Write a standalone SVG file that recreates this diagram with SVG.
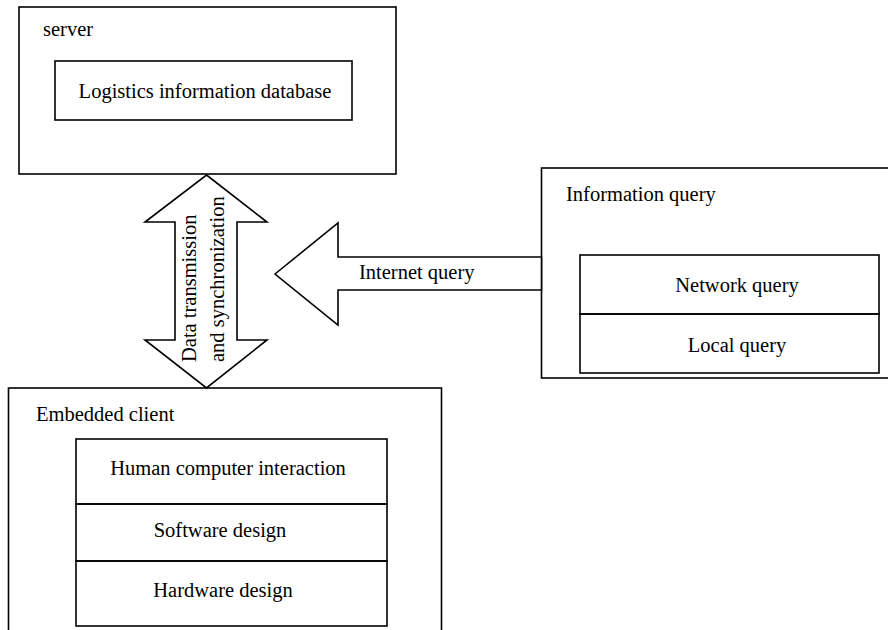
<svg xmlns="http://www.w3.org/2000/svg" width="888" height="630" viewBox="0 0 888 630">
<style>
.box{fill:none;stroke:#000;stroke-width:1.6}
.arrow{fill:#fff;stroke:#000;stroke-width:1.6;stroke-linejoin:miter}
text{font-family:"Liberation Serif","Times New Roman",serif;font-size:20.5px;fill:#000}
.c{text-anchor:middle}
</style>
<rect width="888" height="630" fill="#fff"/>
<g id="server">
<rect class="box" x="19" y="7" width="377" height="167"/>
<text x="43" y="36">server</text>
<g id="logistics-db">
<rect class="box" x="55" y="61" width="297" height="59"/>
<text class="c" x="205" y="98">Logistics information database</text>
</g>
</g>
<g id="info-query">
<rect class="box" x="541.5" y="168" width="350" height="210"/>
<text x="566" y="201">Information query</text>
<g id="network-query">
<rect class="box" x="580" y="255" width="299" height="59"/>
<text class="c" x="737" y="292">Network query</text>
</g>
<g id="local-query">
<rect class="box" x="580" y="314" width="299" height="59"/>
<text class="c" x="737" y="352">Local query</text>
</g>
</g>
<g id="embedded-client">
<rect class="box" x="8.5" y="388" width="433" height="250"/>
<text x="36" y="421">Embedded client</text>
<g id="hci">
<rect class="box" x="76" y="439" width="311" height="65"/>
<text class="c" x="228" y="475">Human computer interaction</text>
</g>
<g id="software">
<rect class="box" x="76" y="504" width="311" height="57"/>
<text class="c" x="220" y="537">Software design</text>
</g>
<g id="hardware">
<rect class="box" x="76" y="561" width="311" height="65"/>
<text class="c" x="223" y="597">Hardware design</text>
</g>
</g>
<g id="connectors">
<g id="sync-arrow">
<polygon class="arrow" points="206.5,175 267,222 237,222 237,340 267,340 206.5,388 145,340 175,340 175,222 145,222"/>
<text transform="translate(196,362) rotate(-90)">Data transmission</text>
<text transform="translate(224,362) rotate(-90)">and synchronization</text>
</g>
<g id="internet-arrow">
<polygon class="arrow" points="275,274 338,223 338,257 541.5,257 541.5,290 338,290 338,325"/>
<text x="359" y="279">Internet query</text>
</g>
</g>
</svg>
